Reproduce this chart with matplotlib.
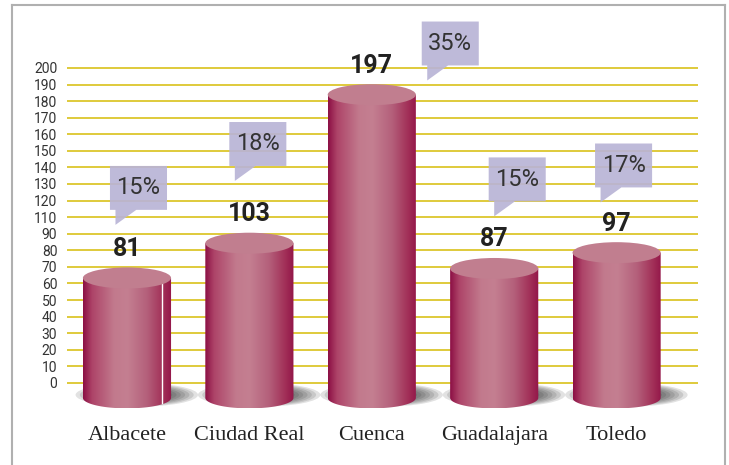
import numpy as np
import matplotlib.pyplot as plt
from matplotlib.patches import Ellipse, Polygon
from matplotlib.lines import Line2D
from matplotlib.colors import LinearSegmentedColormap

# data
provinces = ['Albacete', 'Ciudad Real', 'Cuenca', 'Guadalajara', 'Toledo']
values = [81, 103, 197, 87, 97]
shares = ['15%', '18%', '35%', '15%', '17%']
ytick_labels = ['0', '10', '20', '30', '40', '50', '60', '70', '80', '90',
                '110', '120', '130', '140', '150', '160', '170', '180', '190', '200']

# layout of the callouts (x shift from bar, y centre in data units)
callout_dx = [0.094, 0.069, 0.641, 0.188, 0.057]
callout_y = [138, 165.8, 229.4, 143.4, 152.2]

fig = plt.figure(figsize=(7.29, 4.65), dpi=100)
ax = fig.add_axes([67/729, 1-420/465, (698-67)/729, (420-10)/465])

# gridlines / y axis
grid_pos = 14.6 + 10.49*np.arange(len(ytick_labels))
ax.set_yticks(grid_pos, ytick_labels)
ax.yaxis.grid(True, color='#dcc62c', lw=1.3)
ax.set_axisbelow(True)
ax.tick_params(axis='y', length=0, pad=7, labelsize=10, labelcolor='#333333')
for lab in ax.get_yticklabels():
    lab.set_family('Roboto')
for s in ax.spines.values():
    s.set_visible(False)

cyl_cmap = LinearSegmentedColormap.from_list(
    'cyl', [(0, '#8c0f44'), (0.1, '#ad4368'), (0.35, '#c27a8d'), (0.5, '#c47f91'),
            (0.72, '#b4607b'), (0.9, '#a23058'), (1, '#931549')])
grad = np.linspace(0, 1, 256).reshape(1, -1)

w = 0.72
half = w/2
eh = 13.3
base = 5.1

for i, v in enumerate(values):
    # soft shadow
    for k in range(10):
        f = 1 - k*0.07
        ax.add_patch(Ellipse((i+0.08, 7), 1.0*f, 15*f, facecolor='#202020',
                             edgecolor='none', alpha=0.13, zorder=2))
    # body
    t = np.linspace(np.pi, 2*np.pi, 80)
    verts = list(zip(i + half*np.cos(t), base + eh/2*np.sin(t)))
    verts += [(i+half, v), (i-half, v)]
    poly = Polygon(verts, closed=True, facecolor='none', edgecolor='none')
    ax.add_patch(poly)
    im = ax.imshow(grad, extent=[i-half, i+half, base-eh/2, v], aspect='auto',
                   cmap=cyl_cmap, zorder=3, interpolation='bilinear')
    im.set_clip_path(poly)
    # top
    ax.add_patch(Ellipse((i, v), w, eh, facecolor='#c17e8f', edgecolor='none', zorder=4))
    # value label
    ax.annotate(str(v), (i, v), xytext=(0, 21), textcoords='offset points',
                ha='center', va='center', fontsize=18, fontweight='bold',
                family='Roboto', color='#222222', zorder=6)

# white seam on the first cylinder
ax.plot([0.29, 0.29], [base - 3, values[0] - 3], color='white', lw=1, zorder=3.5)

# percentage callouts
bw, bh = 0.466, 27.8
for i, (s, dx, cy) in enumerate(zip(shares, callout_dx, callout_y)):
    cx = i + dx
    x0, x1 = cx - bw/2, cx + bw/2
    y0, y1 = cy - bh/2, cy + bh/2
    tl = x0 + 0.045
    pts = [(x0, y1), (x0, y0), (tl, y0), (tl, y0 - 9.5), (tl + 0.17, y0), (x1, y0), (x1, y1)]
    ax.add_patch(Polygon(pts, closed=True, facecolor='#b9b4d6', edgecolor='none',
                         alpha=0.92, zorder=5))
    ax.text(cx, cy, s, ha='center', va='center', fontsize=17, family='Roboto',
            fontweight='normal', color='#333333', zorder=6)

ax.set_xticks(range(len(provinces)), provinces)
ax.tick_params(axis='x', length=0, pad=4, labelsize=16, labelcolor='#222222')
for lab in ax.get_xticklabels():
    lab.set_family('Liberation Serif')

ax.set_xlim(-0.49, 4.665)
ax.set_ylim(-8.9, 250.6)

# frame around the figure
bc = '#b0b0b0'
fig.add_artist(Line2D([12/729, 12/729], [0, 1-5/465], color=bc, lw=1.5))
fig.add_artist(Line2D([12/729, 725/729], [1-5/465, 1-5/465], color=bc, lw=1.5))
fig.add_artist(Line2D([725/729, 725/729], [0, 1-5/465], color=bc, lw=1.5))

plt.savefig('out.png', dpi=100)
